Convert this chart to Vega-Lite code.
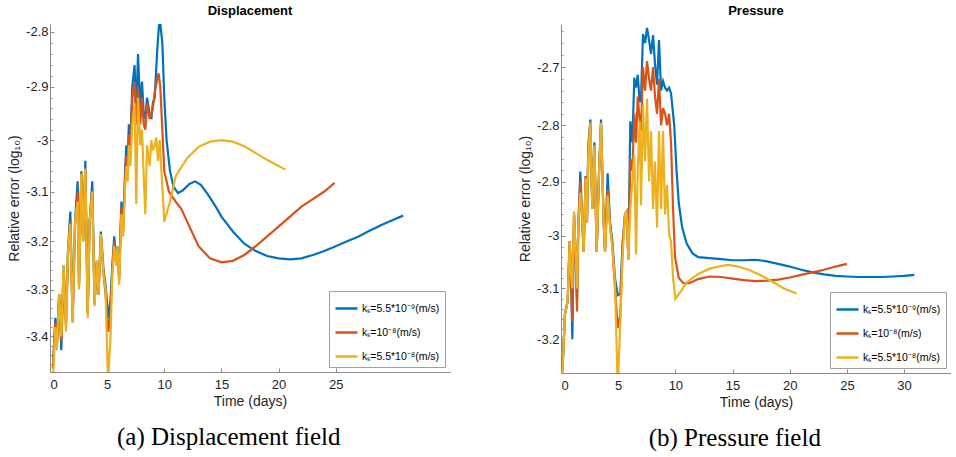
{
  "$schema": "https://vega.github.io/schema/vega-lite/v6.json",
  "background": "white",
  "padding": {"left": 7, "top": 5, "right": 0, "bottom": 0},
  "config": {
    "view": {"stroke": null},
    "font": "Liberation Sans",
    "axis": {"labelFont": "Liberation Sans", "labelFontSize": 13, "labelColor": "#262626", "titleFont": "Liberation Sans", "titleFontSize": 14, "titleFontWeight": "normal", "titleColor": "#262626", "domainColor": "#8c8c8c", "tickColor": "#8c8c8c", "grid": false},
    "title": {"font": "Liberation Sans", "fontSize": 13, "fontWeight": "bold", "color": "black", "offset": 6},
    "legend": {"title": null, "symbolType": "stroke", "symbolSize": 484, "symbolStrokeWidth": 2.5, "labelFont": "Liberation Sans", "labelFontSize": 10.5, "labelOffset": 3, "labelColor": "black", "strokeColor": "#a0a0a0", "fillColor": "white", "padding": 5, "rowPadding": 6, "cornerRadius": 0},
    "concat": {"spacing": 68}
  },
  "datasets": {
    "disp": [
      {"t":0.25,"v":-3.47,"s":"A"},{"t":0.47,"v":-3.36,"s":"A"},{"t":0.6,"v":-3.42,"s":"A"},{"t":0.8,"v":-3.31,"s":"A"},{"t":0.99,"v":-3.43,"s":"A"},{"t":1.19,"v":-3.25,"s":"A"},{"t":1.4,"v":-3.37,"s":"A"},{"t":1.57,"v":-3.22,"s":"A"},{"t":1.78,"v":-3.14,"s":"A"},{"t":1.98,"v":-3.36,"s":"A"},{"t":2.19,"v":-3.16,"s":"A"},{"t":2.42,"v":-3.08,"s":"A"},{"t":2.54,"v":-3.29,"s":"A"},{"t":2.74,"v":-3.06,"s":"A"},{"t":2.9,"v":-3.2,"s":"A"},{"t":3.09,"v":-3.04,"s":"A"},{"t":3.3,"v":-3.35,"s":"A"},{"t":3.47,"v":-3.16,"s":"A"},{"t":3.7,"v":-3.08,"s":"A"},{"t":3.9,"v":-3.33,"s":"A"},{"t":4.1,"v":-3.24,"s":"A"},{"t":4.25,"v":-3.31,"s":"A"},{"t":4.45,"v":-3.18,"s":"A"},{"t":4.69,"v":-3.26,"s":"A"},{"t":4.86,"v":-3.29,"s":"A"},{"t":5.1,"v":-3.36,"s":"A"},{"t":5.3,"v":-3.32,"s":"A"},{"t":5.45,"v":-3.25,"s":"A"},{"t":5.62,"v":-3.19,"s":"A"},{"t":5.8,"v":-3.24,"s":"A"},{"t":5.9,"v":-3.21,"s":"A"},{"t":6.05,"v":-3.27,"s":"A"},{"t":6.25,"v":-3.12,"s":"A"},{"t":6.4,"v":-3.17,"s":"A"},{"t":6.57,"v":-3.06,"s":"A"},{"t":6.68,"v":-3.01,"s":"A"},{"t":6.8,"v":-3.04,"s":"A"},{"t":6.9,"v":-2.97,"s":"A"},{"t":7.04,"v":-3.0,"s":"A"},{"t":7.2,"v":-2.9,"s":"A"},{"t":7.4,"v":-2.86,"s":"A"},{"t":7.55,"v":-2.95,"s":"A"},{"t":7.7,"v":-2.84,"s":"A"},{"t":7.9,"v":-2.94,"s":"A"},{"t":8.05,"v":-2.89,"s":"A"},{"t":8.2,"v":-2.95,"s":"A"},{"t":8.34,"v":-2.96,"s":"A"},{"t":8.49,"v":-2.92,"s":"A"},{"t":8.72,"v":-2.95,"s":"A"},{"t":8.87,"v":-2.96,"s":"A"},{"t":9.0,"v":-2.93,"s":"A"},{"t":9.16,"v":-2.92,"s":"A"},{"t":9.39,"v":-2.83,"s":"A"},{"t":9.55,"v":-2.785,"s":"A"},{"t":9.65,"v":-2.785,"s":"A"},{"t":9.83,"v":-2.82,"s":"A"},{"t":10.0,"v":-2.92,"s":"A"},{"t":10.2,"v":-3.0,"s":"A"},{"t":10.5,"v":-3.06,"s":"A"},{"t":10.8,"v":-3.09,"s":"A"},{"t":11.2,"v":-3.103,"s":"A"},{"t":11.6,"v":-3.098,"s":"A"},{"t":12.2,"v":-3.085,"s":"A"},{"t":12.7,"v":-3.08,"s":"A"},{"t":13.2,"v":-3.087,"s":"A"},{"t":13.8,"v":-3.105,"s":"A"},{"t":14.5,"v":-3.13,"s":"A"},{"t":15,"v":-3.15,"s":"A"},{"t":16,"v":-3.18,"s":"A"},{"t":17,"v":-3.205,"s":"A"},{"t":18,"v":-3.22,"s":"A"},{"t":19,"v":-3.23,"s":"A"},{"t":20,"v":-3.235,"s":"A"},{"t":21,"v":-3.237,"s":"A"},{"t":22,"v":-3.235,"s":"A"},{"t":23,"v":-3.228,"s":"A"},{"t":24,"v":-3.22,"s":"A"},{"t":25,"v":-3.21,"s":"A"},{"t":26,"v":-3.2,"s":"A"},{"t":27,"v":-3.19,"s":"A"},{"t":28,"v":-3.178,"s":"A"},{"t":29,"v":-3.167,"s":"A"},{"t":30,"v":-3.157,"s":"A"},{"t":30.9,"v":-3.148,"s":"A"},
      {"t":0.25,"v":-3.47,"s":"B"},{"t":0.47,"v":-3.37,"s":"B"},{"t":0.6,"v":-3.42,"s":"B"},{"t":0.8,"v":-3.31,"s":"B"},{"t":0.99,"v":-3.41,"s":"B"},{"t":1.19,"v":-3.26,"s":"B"},{"t":1.4,"v":-3.38,"s":"B"},{"t":1.57,"v":-3.23,"s":"B"},{"t":1.78,"v":-3.16,"s":"B"},{"t":1.98,"v":-3.37,"s":"B"},{"t":2.19,"v":-3.17,"s":"B"},{"t":2.42,"v":-3.1,"s":"B"},{"t":2.54,"v":-3.29,"s":"B"},{"t":2.74,"v":-3.065,"s":"B"},{"t":2.9,"v":-3.2,"s":"B"},{"t":3.09,"v":-3.055,"s":"B"},{"t":3.3,"v":-3.35,"s":"B"},{"t":3.47,"v":-3.16,"s":"B"},{"t":3.7,"v":-3.1,"s":"B"},{"t":3.9,"v":-3.33,"s":"B"},{"t":4.1,"v":-3.24,"s":"B"},{"t":4.25,"v":-3.31,"s":"B"},{"t":4.45,"v":-3.19,"s":"B"},{"t":4.69,"v":-3.27,"s":"B"},{"t":4.86,"v":-3.31,"s":"B"},{"t":5.1,"v":-3.39,"s":"B"},{"t":5.3,"v":-3.35,"s":"B"},{"t":5.45,"v":-3.26,"s":"B"},{"t":5.62,"v":-3.2,"s":"B"},{"t":5.8,"v":-3.25,"s":"B"},{"t":5.9,"v":-3.22,"s":"B"},{"t":6.05,"v":-3.28,"s":"B"},{"t":6.25,"v":-3.13,"s":"B"},{"t":6.4,"v":-3.18,"s":"B"},{"t":6.57,"v":-3.08,"s":"B"},{"t":6.68,"v":-3.03,"s":"B"},{"t":6.8,"v":-3.06,"s":"B"},{"t":6.9,"v":-2.99,"s":"B"},{"t":7.04,"v":-3.02,"s":"B"},{"t":7.2,"v":-2.92,"s":"B"},{"t":7.4,"v":-2.89,"s":"B"},{"t":7.55,"v":-2.97,"s":"B"},{"t":7.7,"v":-2.9,"s":"B"},{"t":7.9,"v":-2.97,"s":"B"},{"t":8.05,"v":-2.92,"s":"B"},{"t":8.2,"v":-2.97,"s":"B"},{"t":8.34,"v":-2.98,"s":"B"},{"t":8.49,"v":-2.93,"s":"B"},{"t":8.72,"v":-2.96,"s":"B"},{"t":8.87,"v":-2.95,"s":"B"},{"t":9.0,"v":-2.94,"s":"B"},{"t":9.16,"v":-2.91,"s":"B"},{"t":9.39,"v":-2.885,"s":"B"},{"t":9.5,"v":-2.875,"s":"B"},{"t":9.65,"v":-2.9,"s":"B"},{"t":9.83,"v":-2.98,"s":"B"},{"t":10.0,"v":-3.06,"s":"B"},{"t":10.4,"v":-3.1,"s":"B"},{"t":11.0,"v":-3.12,"s":"B"},{"t":11.5,"v":-3.135,"s":"B"},{"t":12,"v":-3.16,"s":"B"},{"t":13,"v":-3.21,"s":"B"},{"t":14,"v":-3.235,"s":"B"},{"t":15,"v":-3.243,"s":"B"},{"t":16,"v":-3.24,"s":"B"},{"t":17,"v":-3.228,"s":"B"},{"t":18,"v":-3.21,"s":"B"},{"t":19,"v":-3.19,"s":"B"},{"t":20,"v":-3.17,"s":"B"},{"t":21,"v":-3.15,"s":"B"},{"t":22,"v":-3.13,"s":"B"},{"t":23,"v":-3.115,"s":"B"},{"t":24,"v":-3.1,"s":"B"},{"t":24.9,"v":-3.083,"s":"B"},
      {"t":0.25,"v":-3.5,"s":"C"},{"t":0.47,"v":-3.38,"s":"C"},{"t":0.6,"v":-3.43,"s":"C"},{"t":0.8,"v":-3.31,"s":"C"},{"t":0.99,"v":-3.4,"s":"C"},{"t":1.19,"v":-3.25,"s":"C"},{"t":1.4,"v":-3.39,"s":"C"},{"t":1.57,"v":-3.22,"s":"C"},{"t":1.78,"v":-3.165,"s":"C"},{"t":1.98,"v":-3.37,"s":"C"},{"t":2.19,"v":-3.16,"s":"C"},{"t":2.42,"v":-3.12,"s":"C"},{"t":2.54,"v":-3.3,"s":"C"},{"t":2.74,"v":-3.065,"s":"C"},{"t":2.9,"v":-3.2,"s":"C"},{"t":3.09,"v":-3.055,"s":"C"},{"t":3.3,"v":-3.36,"s":"C"},{"t":3.47,"v":-3.16,"s":"C"},{"t":3.7,"v":-3.1,"s":"C"},{"t":3.9,"v":-3.335,"s":"C"},{"t":4.1,"v":-3.24,"s":"C"},{"t":4.25,"v":-3.31,"s":"C"},{"t":4.45,"v":-3.185,"s":"C"},{"t":4.69,"v":-3.27,"s":"C"},{"t":4.86,"v":-3.3,"s":"C"},{"t":5.07,"v":-3.5,"s":"C"},{"t":5.3,"v":-3.4,"s":"C"},{"t":5.45,"v":-3.27,"s":"C"},{"t":5.62,"v":-3.21,"s":"C"},{"t":5.8,"v":-3.25,"s":"C"},{"t":5.9,"v":-3.21,"s":"C"},{"t":6.05,"v":-3.29,"s":"C"},{"t":6.25,"v":-3.145,"s":"C"},{"t":6.4,"v":-3.19,"s":"C"},{"t":6.57,"v":-3.09,"s":"C"},{"t":6.68,"v":-3.05,"s":"C"},{"t":6.8,"v":-3.08,"s":"C"},{"t":6.9,"v":-3.01,"s":"C"},{"t":7.04,"v":-3.05,"s":"C"},{"t":7.2,"v":-2.97,"s":"C"},{"t":7.4,"v":-2.93,"s":"C"},{"t":7.55,"v":-3.125,"s":"C"},{"t":7.7,"v":-2.92,"s":"C"},{"t":7.9,"v":-3.01,"s":"C"},{"t":8.05,"v":-2.98,"s":"C"},{"t":8.2,"v":-3.07,"s":"C"},{"t":8.34,"v":-3.145,"s":"C"},{"t":8.49,"v":-3.01,"s":"C"},{"t":8.72,"v":-3.05,"s":"C"},{"t":8.87,"v":-3.0,"s":"C"},{"t":9.0,"v":-3.02,"s":"C"},{"t":9.16,"v":-3.01,"s":"C"},{"t":9.3,"v":-2.995,"s":"C"},{"t":9.45,"v":-3.04,"s":"C"},{"t":9.6,"v":-3.0,"s":"C"},{"t":9.75,"v":-3.06,"s":"C"},{"t":10.0,"v":-3.16,"s":"C"},{"t":10.5,"v":-3.12,"s":"C"},{"t":11.0,"v":-3.07,"s":"C"},{"t":12,"v":-3.035,"s":"C"},{"t":13,"v":-3.013,"s":"C"},{"t":14,"v":-3.003,"s":"C"},{"t":15,"v":-3.0,"s":"C"},{"t":16,"v":-3.003,"s":"C"},{"t":17,"v":-3.012,"s":"C"},{"t":18,"v":-3.025,"s":"C"},{"t":19,"v":-3.038,"s":"C"},{"t":20,"v":-3.05,"s":"C"},{"t":20.6,"v":-3.057,"s":"C"}
    ],
    "pres": [
      {"t":0.12,"v":-3.265,"s":"A"},{"t":0.35,"v":-3.15,"s":"A"},{"t":0.58,"v":-3.125,"s":"A"},{"t":0.76,"v":-3.01,"s":"A"},{"t":0.87,"v":-3.07,"s":"A"},{"t":0.99,"v":-3.2,"s":"A"},{"t":1.14,"v":-2.96,"s":"A"},{"t":1.28,"v":-3.035,"s":"A"},{"t":1.4,"v":-3.12,"s":"A"},{"t":1.52,"v":-2.975,"s":"A"},{"t":1.69,"v":-2.882,"s":"A"},{"t":1.81,"v":-2.95,"s":"A"},{"t":1.98,"v":-3.03,"s":"A"},{"t":2.16,"v":-2.89,"s":"A"},{"t":2.27,"v":-2.973,"s":"A"},{"t":2.39,"v":-2.835,"s":"A"},{"t":2.57,"v":-2.79,"s":"A"},{"t":2.74,"v":-2.95,"s":"A"},{"t":2.92,"v":-2.83,"s":"A"},{"t":3.12,"v":-3.03,"s":"A"},{"t":3.32,"v":-2.885,"s":"A"},{"t":3.5,"v":-2.79,"s":"A"},{"t":3.73,"v":-2.973,"s":"A"},{"t":3.85,"v":-3.03,"s":"A"},{"t":4.08,"v":-2.885,"s":"A"},{"t":4.29,"v":-2.975,"s":"A"},{"t":4.49,"v":-3.01,"s":"A"},{"t":4.72,"v":-3.08,"s":"A"},{"t":4.96,"v":-3.113,"s":"A"},{"t":5.19,"v":-3.11,"s":"A"},{"t":5.39,"v":-3.01,"s":"A"},{"t":5.6,"v":-2.96,"s":"A"},{"t":5.74,"v":-2.955,"s":"A"},{"t":5.89,"v":-3.04,"s":"A"},{"t":6.06,"v":-2.793,"s":"A"},{"t":6.24,"v":-2.83,"s":"A"},{"t":6.41,"v":-2.718,"s":"A"},{"t":6.56,"v":-2.735,"s":"A"},{"t":6.71,"v":-2.713,"s":"A"},{"t":6.88,"v":-2.76,"s":"A"},{"t":7.0,"v":-2.752,"s":"A"},{"t":7.17,"v":-2.645,"s":"A"},{"t":7.35,"v":-2.66,"s":"A"},{"t":7.52,"v":-2.635,"s":"A"},{"t":7.7,"v":-2.655,"s":"A"},{"t":7.87,"v":-2.678,"s":"A"},{"t":8.05,"v":-2.647,"s":"A"},{"t":8.22,"v":-2.695,"s":"A"},{"t":8.4,"v":-2.73,"s":"A"},{"t":8.57,"v":-2.655,"s":"A"},{"t":8.75,"v":-2.74,"s":"A"},{"t":8.92,"v":-2.724,"s":"A"},{"t":9.1,"v":-2.735,"s":"A"},{"t":9.27,"v":-2.74,"s":"A"},{"t":9.45,"v":-2.735,"s":"A"},{"t":9.62,"v":-2.745,"s":"A"},{"t":9.9,"v":-2.8,"s":"A"},{"t":10.1,"v":-2.88,"s":"A"},{"t":10.3,"v":-2.94,"s":"A"},{"t":10.6,"v":-2.985,"s":"A"},{"t":11.0,"v":-3.015,"s":"A"},{"t":11.5,"v":-3.033,"s":"A"},{"t":12,"v":-3.04,"s":"A"},{"t":13,"v":-3.042,"s":"A"},{"t":14,"v":-3.044,"s":"A"},{"t":15,"v":-3.046,"s":"A"},{"t":16,"v":-3.046,"s":"A"},{"t":17,"v":-3.045,"s":"A"},{"t":18,"v":-3.048,"s":"A"},{"t":19,"v":-3.053,"s":"A"},{"t":20,"v":-3.058,"s":"A"},{"t":21,"v":-3.064,"s":"A"},{"t":22,"v":-3.069,"s":"A"},{"t":23,"v":-3.073,"s":"A"},{"t":24,"v":-3.076,"s":"A"},{"t":25,"v":-3.077,"s":"A"},{"t":26,"v":-3.078,"s":"A"},{"t":27,"v":-3.078,"s":"A"},{"t":28,"v":-3.078,"s":"A"},{"t":29,"v":-3.077,"s":"A"},{"t":30,"v":-3.076,"s":"A"},{"t":30.9,"v":-3.074,"s":"A"},
      {"t":0.12,"v":-3.265,"s":"B"},{"t":0.35,"v":-3.15,"s":"B"},{"t":0.58,"v":-3.125,"s":"B"},{"t":0.76,"v":-3.01,"s":"B"},{"t":0.87,"v":-3.07,"s":"B"},{"t":0.99,"v":-3.165,"s":"B"},{"t":1.14,"v":-2.96,"s":"B"},{"t":1.28,"v":-3.035,"s":"B"},{"t":1.4,"v":-3.145,"s":"B"},{"t":1.52,"v":-2.98,"s":"B"},{"t":1.69,"v":-2.9,"s":"B"},{"t":1.81,"v":-2.95,"s":"B"},{"t":1.98,"v":-3.03,"s":"B"},{"t":2.16,"v":-2.89,"s":"B"},{"t":2.27,"v":-2.975,"s":"B"},{"t":2.39,"v":-2.845,"s":"B"},{"t":2.57,"v":-2.8,"s":"B"},{"t":2.74,"v":-2.95,"s":"B"},{"t":2.92,"v":-2.835,"s":"B"},{"t":3.12,"v":-3.03,"s":"B"},{"t":3.32,"v":-2.89,"s":"B"},{"t":3.5,"v":-2.8,"s":"B"},{"t":3.73,"v":-2.975,"s":"B"},{"t":3.85,"v":-3.03,"s":"B"},{"t":4.08,"v":-2.915,"s":"B"},{"t":4.29,"v":-2.98,"s":"B"},{"t":4.49,"v":-3.02,"s":"B"},{"t":4.72,"v":-3.1,"s":"B"},{"t":4.96,"v":-3.177,"s":"B"},{"t":5.19,"v":-3.15,"s":"B"},{"t":5.39,"v":-3.02,"s":"B"},{"t":5.6,"v":-2.96,"s":"B"},{"t":5.74,"v":-2.955,"s":"B"},{"t":5.89,"v":-3.045,"s":"B"},{"t":6.06,"v":-2.86,"s":"B"},{"t":6.24,"v":-2.88,"s":"B"},{"t":6.41,"v":-2.78,"s":"B"},{"t":6.56,"v":-2.83,"s":"B"},{"t":6.71,"v":-2.75,"s":"B"},{"t":6.88,"v":-2.79,"s":"B"},{"t":7.0,"v":-2.81,"s":"B"},{"t":7.17,"v":-2.7,"s":"B"},{"t":7.35,"v":-2.74,"s":"B"},{"t":7.52,"v":-2.69,"s":"B"},{"t":7.7,"v":-2.72,"s":"B"},{"t":7.87,"v":-2.74,"s":"B"},{"t":8.05,"v":-2.7,"s":"B"},{"t":8.22,"v":-2.75,"s":"B"},{"t":8.4,"v":-2.78,"s":"B"},{"t":8.57,"v":-2.72,"s":"B"},{"t":8.75,"v":-2.8,"s":"B"},{"t":8.92,"v":-2.77,"s":"B"},{"t":9.1,"v":-2.78,"s":"B"},{"t":9.27,"v":-2.8,"s":"B"},{"t":9.45,"v":-2.78,"s":"B"},{"t":9.62,"v":-2.83,"s":"B"},{"t":9.8,"v":-2.95,"s":"B"},{"t":9.97,"v":-3.04,"s":"B"},{"t":10.3,"v":-3.08,"s":"B"},{"t":10.7,"v":-3.09,"s":"B"},{"t":11.2,"v":-3.09,"s":"B"},{"t":12,"v":-3.082,"s":"B"},{"t":13,"v":-3.077,"s":"B"},{"t":14,"v":-3.078,"s":"B"},{"t":15,"v":-3.081,"s":"B"},{"t":16,"v":-3.084,"s":"B"},{"t":17,"v":-3.086,"s":"B"},{"t":18,"v":-3.085,"s":"B"},{"t":19,"v":-3.083,"s":"B"},{"t":20,"v":-3.079,"s":"B"},{"t":21,"v":-3.074,"s":"B"},{"t":22,"v":-3.069,"s":"B"},{"t":23,"v":-3.064,"s":"B"},{"t":24,"v":-3.058,"s":"B"},{"t":25,"v":-3.053,"s":"B"},
      {"t":0.12,"v":-3.27,"s":"C"},{"t":0.35,"v":-3.15,"s":"C"},{"t":0.58,"v":-3.125,"s":"C"},{"t":0.76,"v":-3.01,"s":"C"},{"t":0.87,"v":-3.07,"s":"C"},{"t":0.99,"v":-3.1,"s":"C"},{"t":1.14,"v":-2.955,"s":"C"},{"t":1.28,"v":-3.035,"s":"C"},{"t":1.4,"v":-3.1,"s":"C"},{"t":1.52,"v":-2.975,"s":"C"},{"t":1.69,"v":-2.92,"s":"C"},{"t":1.81,"v":-2.95,"s":"C"},{"t":1.98,"v":-3.03,"s":"C"},{"t":2.16,"v":-2.894,"s":"C"},{"t":2.27,"v":-2.973,"s":"C"},{"t":2.39,"v":-2.85,"s":"C"},{"t":2.57,"v":-2.795,"s":"C"},{"t":2.74,"v":-2.95,"s":"C"},{"t":2.92,"v":-2.835,"s":"C"},{"t":3.12,"v":-3.03,"s":"C"},{"t":3.32,"v":-2.888,"s":"C"},{"t":3.5,"v":-2.795,"s":"C"},{"t":3.73,"v":-2.973,"s":"C"},{"t":3.85,"v":-3.03,"s":"C"},{"t":4.08,"v":-2.925,"s":"C"},{"t":4.29,"v":-2.985,"s":"C"},{"t":4.49,"v":-3.02,"s":"C"},{"t":4.72,"v":-3.09,"s":"C"},{"t":4.96,"v":-3.3,"s":"C"},{"t":5.19,"v":-3.165,"s":"C"},{"t":5.39,"v":-3.035,"s":"C"},{"t":5.6,"v":-2.96,"s":"C"},{"t":5.74,"v":-2.955,"s":"C"},{"t":5.89,"v":-3.045,"s":"C"},{"t":6.06,"v":-2.95,"s":"C"},{"t":6.24,"v":-2.9,"s":"C"},{"t":6.41,"v":-2.852,"s":"C"},{"t":6.56,"v":-3.035,"s":"C"},{"t":6.71,"v":-2.88,"s":"C"},{"t":6.88,"v":-2.793,"s":"C"},{"t":7.0,"v":-2.943,"s":"C"},{"t":7.17,"v":-2.765,"s":"C"},{"t":7.35,"v":-2.864,"s":"C"},{"t":7.52,"v":-2.754,"s":"C"},{"t":7.7,"v":-2.9,"s":"C"},{"t":7.87,"v":-2.81,"s":"C"},{"t":8.05,"v":-2.95,"s":"C"},{"t":8.22,"v":-2.864,"s":"C"},{"t":8.4,"v":-2.985,"s":"C"},{"t":8.57,"v":-2.81,"s":"C"},{"t":8.75,"v":-2.95,"s":"C"},{"t":8.92,"v":-2.81,"s":"C"},{"t":9.1,"v":-2.96,"s":"C"},{"t":9.27,"v":-2.906,"s":"C"},{"t":9.45,"v":-2.997,"s":"C"},{"t":9.62,"v":-3.01,"s":"C"},{"t":9.8,"v":-3.08,"s":"C"},{"t":10.0,"v":-3.12,"s":"C"},{"t":10.5,"v":-3.105,"s":"C"},{"t":11,"v":-3.088,"s":"C"},{"t":12,"v":-3.072,"s":"C"},{"t":13,"v":-3.062,"s":"C"},{"t":14,"v":-3.057,"s":"C"},{"t":14.6,"v":-3.055,"s":"C"},{"t":15.5,"v":-3.058,"s":"C"},{"t":16.5,"v":-3.065,"s":"C"},{"t":17.5,"v":-3.075,"s":"C"},{"t":18.5,"v":-3.087,"s":"C"},{"t":19.5,"v":-3.1,"s":"C"},{"t":20.6,"v":-3.11,"s":"C"}
    ]
  },
  "resolve": {"scale": {"x": "independent", "y": "independent", "color": "independent"}, "legend": {"color": "independent"}},
  "hconcat": [
    {
      "title": {"text": "(a) Displacement field", "orient": "bottom", "font": "Liberation Serif", "fontSize": 25, "fontWeight": "normal", "anchor": "middle", "frame": "bounds", "offset": 17},
      "resolve": {"scale": {"color": "independent"}, "legend": {"color": "independent"}},
      "vconcat": [
        {
          "width": 400,
          "height": 348,
          "title": {"text": "Displacement"},
          "data": {"name": "disp"},
          "mark": {"type": "line", "strokeWidth": 2.2, "clip": true},
          "encoding": {
            "x": {"field": "t", "type": "quantitative", "scale": {"domain": [0, 35], "nice": false}, "axis": {"title": "Time (days)", "values": [0, 5, 10, 15, 20, 25], "tickSize": -4, "labelPadding": 10, "titlePadding": 3}},
            "y": {"field": "v", "type": "quantitative", "scale": {"type": "log", "domain": [-3.478, -2.786], "nice": false}, "axis": {"title": "Relative error (log₁₀)", "values": [-3.46, -3.44, -3.42, -3.4, -3.38, -3.36, -3.34, -3.32, -3.3, -3.28, -3.26, -3.24, -3.22, -3.2, -3.18, -3.16, -3.14, -3.12, -3.1, -3.08, -3.06, -3.04, -3.02, -3, -2.98, -2.96, -2.94, -2.92, -2.9, -2.88, -2.86, -2.84, -2.82, -2.8], "labelExpr": "abs(datum.value * 10 - round(datum.value * 10)) < 0.001 ? '' + datum.value : ''", "tickSize": {"condition": {"test": "abs(datum.value * 10 - round(datum.value * 10)) < 0.001", "value": -4}, "value": -2}, "labelPadding": 6}},
            "color": {"field": "s", "type": "nominal", "scale": {"domain": ["A", "B", "C"], "range": ["#0072BD", "#D95319", "#EDB120"]}, "legend": {"orient": "bottom-right", "offset": 5, "labelExpr": "datum.label == 'A' ? 'kₛ=5.5*10⁻⁹(m/s)' : datum.label == 'B' ? 'kₛ=10⁻⁸(m/s)' : 'kₛ=5.5*10⁻⁸(m/s)'"}}
          }
        }
      ]
    },
    {
      "title": {"text": "(b) Pressure field", "orient": "bottom", "font": "Liberation Serif", "fontSize": 25, "fontWeight": "normal", "anchor": "middle", "frame": "bounds", "offset": 17},
      "resolve": {"scale": {"color": "independent"}, "legend": {"color": "independent"}},
      "vconcat": [
        {
          "width": 390,
          "height": 349,
          "title": {"text": "Pressure"},
          "data": {"name": "pres"},
          "mark": {"type": "line", "strokeWidth": 2.2, "clip": true},
          "encoding": {
            "x": {"field": "t", "type": "quantitative", "scale": {"domain": [0, 34.1], "nice": false}, "axis": {"title": "Time (days)", "values": [0, 5, 10, 15, 20, 25, 30], "tickSize": -4, "labelPadding": 10, "titlePadding": 3}},
            "y": {"field": "v", "type": "quantitative", "scale": {"type": "log", "domain": [-3.268, -2.6285], "nice": false}, "axis": {"title": "Relative error (log₁₀)", "values": [-3.26, -3.24, -3.22, -3.2, -3.18, -3.16, -3.14, -3.12, -3.1, -3.08, -3.06, -3.04, -3.02, -3, -2.98, -2.96, -2.94, -2.92, -2.9, -2.88, -2.86, -2.84, -2.82, -2.8, -2.78, -2.76, -2.74, -2.72, -2.7, -2.68, -2.66, -2.64], "labelExpr": "abs(datum.value * 10 - round(datum.value * 10)) < 0.001 ? '' + datum.value : ''", "tickSize": {"condition": {"test": "abs(datum.value * 10 - round(datum.value * 10)) < 0.001", "value": -4}, "value": -2}, "labelPadding": 6}},
            "color": {"field": "s", "type": "nominal", "scale": {"domain": ["A", "B", "C"], "range": ["#0072BD", "#D95319", "#EDB120"]}, "legend": {"orient": "bottom-right", "offset": 5, "labelExpr": "datum.label == 'A' ? 'kₛ=5.5*10⁻⁹(m/s)' : datum.label == 'B' ? 'kₛ=10⁻⁸(m/s)' : 'kₛ=5.5*10⁻⁸(m/s)'"}}
          }
        }
      ]
    }
  ]
}
